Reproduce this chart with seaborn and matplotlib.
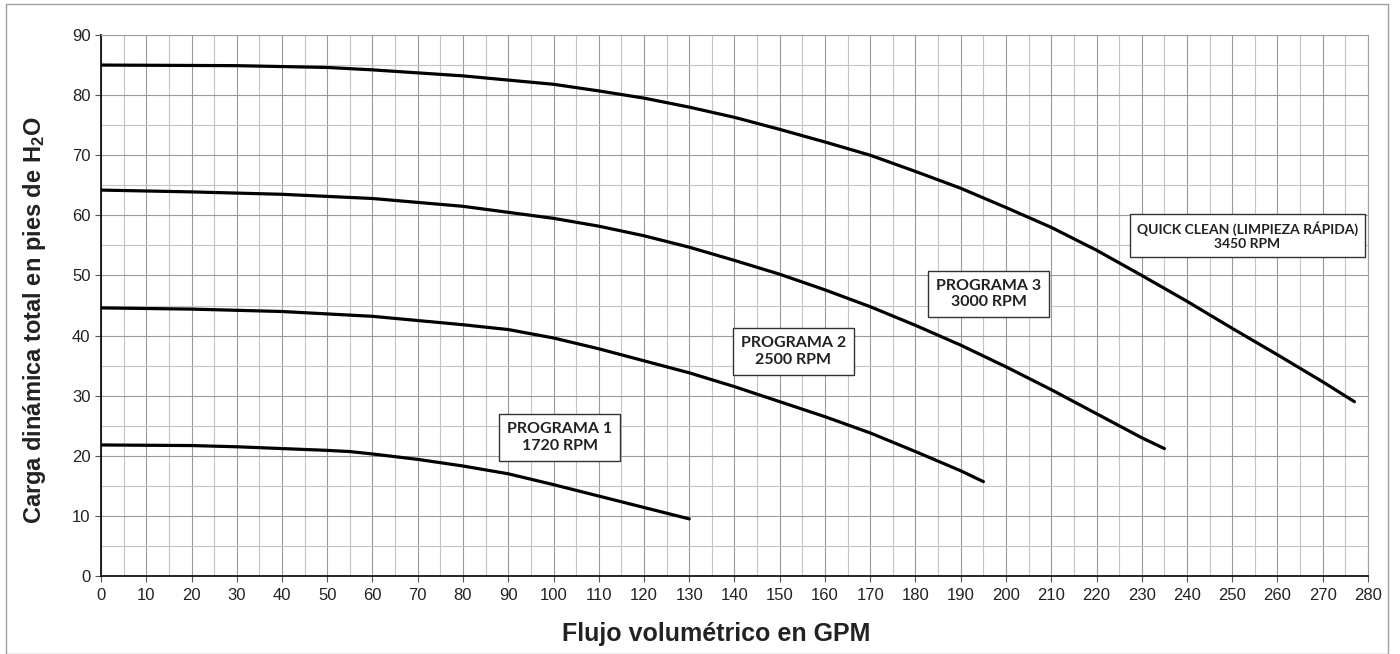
import matplotlib
matplotlib.use("Agg")
import matplotlib.pyplot as plt
import seaborn as sns
import pandas as pd
import numpy as np
from matplotlib.ticker import MultipleLocator
from matplotlib.patches import Rectangle

# Data
qc_x = [0, 30, 50, 60, 80, 100, 110, 120, 130, 140, 150, 160, 170, 180, 190, 200, 210, 220, 230, 240, 250, 260, 270, 277]
qc_y = [85, 84.9, 84.6, 84.2, 83.2, 81.8, 80.7, 79.5, 78, 76.3, 74.3, 72.2, 70, 67.3, 64.5, 61.3, 58, 54.2, 50, 45.7, 41.2, 36.8, 32.3, 29]
p3_x = [0, 20, 40, 60, 80, 100, 110, 120, 130, 140, 150, 160, 170, 180, 190, 200, 210, 220, 230, 235]
p3_y = [64.2, 63.9, 63.5, 62.8, 61.5, 59.5, 58.2, 56.6, 54.7, 52.5, 50.2, 47.6, 44.8, 41.7, 38.4, 34.8, 31, 27, 23, 21.2]
p2_x = [0, 20, 40, 60, 80, 90, 100, 110, 120, 130, 140, 150, 160, 170, 180, 190, 195]
p2_y = [44.6, 44.4, 44, 43.2, 41.8, 41, 39.6, 37.8, 35.8, 33.8, 31.5, 29, 26.5, 23.8, 20.7, 17.5, 15.7]
p1_x = [0, 20, 30, 40, 50, 55, 60, 70, 80, 90, 100, 110, 120, 130]
p1_y = [21.8, 21.7, 21.5, 21.2, 20.9, 20.7, 20.3, 19.4, 18.3, 17, 15.2, 13.3, 11.4, 9.5]

series_names = ["QUICK CLEAN (LIMPIEZA RÁPIDA)\n3450 RPM", "PROGRAMA 3\n3000 RPM",
                "PROGRAMA 2\n2500 RPM", "PROGRAMA 1\n1720 RPM"]
label_x = [253.3, 196.2, 153, 101.4]
label_y = [56.6, 46.9, 37.4, 23.1]

xlabel = "Flujo volumétrico en GPM"
ylabel = "Carga dinámica total en pies de $\\mathbf{H_2O}$"

frames = []
for name, xs, ys in zip(series_names, [qc_x, p3_x, p2_x, p1_x], [qc_y, p3_y, p2_y, p1_y]):
    frames.append(pd.DataFrame({"x": xs, "y": ys, "s": name}))
df = pd.concat(frames, ignore_index=True)

sns.set_theme(style="white")
plt.rcParams["font.family"] = ["Liberation Sans", "DejaVu Sans"]
plt.rcParams["mathtext.fontset"] = "custom"
plt.rcParams["mathtext.rm"] = "Liberation Sans"
plt.rcParams["mathtext.bf"] = "Liberation Sans:bold"

fig = plt.figure(figsize=(14, 6.54), dpi=100)
ax = fig.add_axes([101/1400, 1 - 576/654, (1368-101)/1400, (576-35)/654])

sns.lineplot(data=df, x="x", y="y", hue="s", palette=["black"]*4, legend=False,
             linewidth=2.3, ax=ax, sort=True, estimator=None)

ax.set_xlim(0, 280)
ax.set_ylim(0, 90)
ax.xaxis.set_major_locator(MultipleLocator(10))
ax.yaxis.set_major_locator(MultipleLocator(10))
ax.xaxis.set_minor_locator(MultipleLocator(5))
ax.yaxis.set_minor_locator(MultipleLocator(5))
ax.grid(which="major", color="#9a9a9a", linewidth=0.8)
ax.grid(which="minor", color="#c4c4c4", linewidth=0.8)
ax.set_axisbelow(True)

for side in ["top", "right"]:
    ax.spines[side].set_color("#a0a0a0")
    ax.spines[side].set_linewidth(0.8)
for side in ["left", "bottom"]:
    ax.spines[side].set_color("black")
    ax.spines[side].set_linewidth(1.2)

ax.tick_params(axis="both", which="major", direction="out", length=4, width=0.8,
               color="#555555", labelsize=12, labelcolor="#222222", bottom=True, left=True)
ax.tick_params(axis="x", which="major", pad=5)
ax.tick_params(axis="both", which="minor", length=0)

ax.set_xlabel(xlabel, fontsize=18, fontweight="bold", color="#222222", va="center")
ax.set_ylabel(ylabel, fontsize=17, fontweight="bold", color="#222222", va="center")
ax.xaxis.set_label_coords((716 - 101) / 1267, (576 - 634) / 541)
ax.yaxis.set_label_coords((35 - 101) / 1267, (576 - 320) / 541)

for name, lx, ly in zip(series_names, label_x, label_y):
    fs = 10 if name.startswith("QUICK") else 11.5
    ax.text(lx, ly, name, ha="center", va="center", fontsize=fs, fontweight="bold",
            family=["Lato", "DejaVu Sans"], color="#222222", linespacing=1.25,
            bbox=dict(boxstyle="square,pad=0.5", facecolor="white", edgecolor="#333333", linewidth=1.0))

# outer frame
fig.patches.append(Rectangle((6/1400, 0), (1388-6)/1400, 1 - 4/654, transform=fig.transFigure,
                             fill=False, edgecolor="#a0a0a0", linewidth=1.0))

fig.savefig("out.png", dpi=100)
